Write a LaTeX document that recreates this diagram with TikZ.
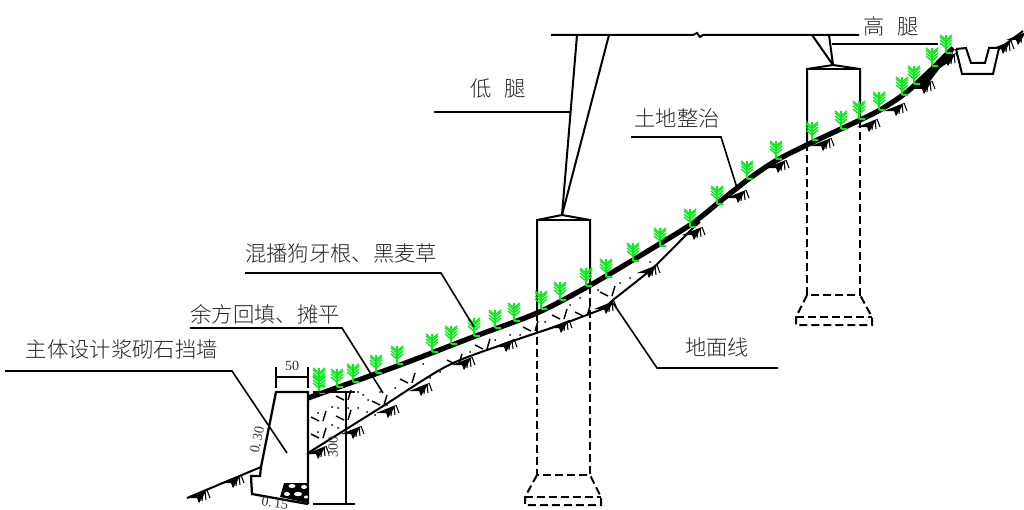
\documentclass[tikz,border=0pt]{standalone}
\usepackage{fontspec}
\setmainfont{Liberation Serif}
\newfontfamily\cjk{Noto Sans CJK SC Light}
\definecolor{grassgreen}{RGB}{0,240,20}
\tikzset{
  x=0.75pt,y=-0.75pt,
  lbl/.style={font=\cjk\fontsize{16}{18}\selectfont,inner sep=0pt,text=black!85},
  dimtxt/.style={font=\fontsize{10.5}{12}\selectfont,inner sep=0pt,text=black!80},
  heavy/.style={line width=1.5pt,line join=miter},
  leader/.style={line width=1.2pt,line join=miter},
  groundline/.style={line width=1.5pt,line join=round},
  dimline/.style={line width=1.1pt},
  hiddenline/.style={line width=1.5pt,dash pattern=on 6pt off 3pt},
  grass/.pic={
    \draw[grassgreen,line width=1.2pt] (-1,-1) -- (0,0) -- (5,0);
    \draw[grassgreen,line width=1.5pt] (-1,0) -- (-1,-9);
    \foreach \h in {-5,-8,-11,-13}{
      \draw[grassgreen,line width=1.0pt] (-7,\h-5) -- (-1,\h) -- (5,\h-5);
    }
    \draw[grassgreen,line width=0.9pt] (-1,-9) -- (-1,-18);
  },
  hach/.pic={
    \fill[black] (-11,3) -- (9,-5) -- (1,8) -- (-1,3) -- cycle;
    \draw[black,line width=0.8pt] (2,-1) -- (1,7) (5,-3) -- (4,6) (7,-4) -- (8,5) (9,-5) -- (12,3);
  },
  fleck/.pic={
    \draw[black,line width=1.1pt] (-9,-2) -- (-1,2) (6,-8) -- (3,2);
  }
}
\begin{document}
\begin{tikzpicture}
\useasboundingbox (0,0) rectangle (1024,510);
\fill[white] (0,0) rectangle (1024,510);

% named anchors of the structure
\coordinate (beamL) at (551,35);
\coordinate (brkA) at (693,35);
\coordinate (brkB) at (703,35);
\coordinate (beamR) at (859,35);
\coordinate (capA) at (562,215);
\coordinate (capB) at (833,65);

% beam and legs
\draw[heavy] (beamL) -- (brkA) -- (697,33) -- (700,37) -- (brkB) -- (beamR);
\draw[heavy] (577,35) -- (capA);
\draw[heavy] (609,35) -- (capA);
\draw[heavy] (812,35) -- (capB);
\draw[heavy] (829,35) -- (capB);

% left pillar
\draw[heavy] (537,313) -- (537,220) -- (capA) -- (590,220) -- (590,287);
\draw[heavy] (537,220) -- (590,220);
\draw[hiddenline] (537,313) -- (537,475) -- (590,475) -- (590,287);
\draw[hiddenline] (537,475) -- (525,497) -- (525,505) -- (601,505) -- (601,497) -- (590,475);
\draw[hiddenline] (525,497) -- (601,497);
% right pillar
\draw[heavy] (807,143) -- (807,69) -- (capB) -- (860,69) -- (860,120);
\draw[heavy] (807,69) -- (860,69);
\draw[hiddenline] (807,143) -- (807,295) -- (860,295) -- (860,120);
\draw[hiddenline] (807,295) -- (796,317) -- (796,325) -- (872,325) -- (872,317) -- (860,295);
\draw[hiddenline] (796,317) -- (872,317);

% retaining wall
\draw[line width=1.7pt,line join=miter] (308,504) -- (308,392) -- (276,392) -- (261,467) -- (260,476) -- (251,476) -- (252,494) -- (308,504);
\fill[black] (284,483) -- (308,483) -- (308,503) -- (280,497) -- cycle;
\fill[white] (292,486) ellipse (3.5 and 2) (304,487) ellipse (3 and 2) (287,494) ellipse (3 and 2) (298,494) ellipse (4 and 2.2) (306,497) ellipse (2 and 1.5);

% ground lines
\draw[groundline] (187,498) -- (261,467);
\draw[groundline] plot[smooth,tension=.5] coordinates {(308,453) (380,408) (447,366) (507,343) (560,325) (605,308)};
\draw[groundline] plot[smooth,tension=.3] coordinates {(605,308) (613,300) (653,268) (693,228) (700,222)};
\draw[groundline] (999,49) -- (1023,31);

% fill texture
\foreach \p in {(320,419),(320,436),(345,418),(345,398),(381,403),(409,381),(456,362),(484,347),(532,329),(561,317),(584,314),(609,294)}{
  \path \p pic {fleck};
}
\foreach \p in {(332,407),(338,408),(318,413),(332,425),(338,428),(318,432),(358,392),(363,395),(368,400),(348,408),(358,408),(367,412),(375,415),(380,392),(387,405),(395,388),(423,364),(430,378),(440,372),(470,352),(495,340),(510,335),(520,335),(545,322),(570,305),(580,298),(598,290),(620,283),(630,278),(650,262)}{
  \fill[black] \p circle (1);
}

% thick top line
\draw[line width=3.9pt,line cap=butt] plot[smooth,tension=.5] coordinates {(308,398) (400,365) (473,337) (537,313) (587,287) (633,260) (690,225) (718,203) (737,188) (750,178) (777,160) (813,142) (843,128) (860,120) (880,110) (903,95) (917,83) (933,68) (953,48)};

% ditch
\draw[line width=1.5pt,line join=miter] (956,49) -- (966,48) -- (971,63) -- (985,63) -- (989,48) -- (999,48) -- (993,74) -- (962,74) -- (956,49);

% ground hachures
\foreach \p in {(198,495),(232,480),(317,451),(352,431),(387,410),(420,388),(463,362),(505,344),(560,325),(605,306),(648,270),(693,232),(737,195),(777,165),(822,143),(868,124),(895,108),(923,86),(947,58),(1017,37),(1002,46)}{
  \path \p pic {hach};
}
\fill[black] (915,88) -- (953,47) -- (952,60) -- (940,68) -- (925,88) -- cycle;

% grass
\foreach \p in {(320,393),(320,386),(338,387),(354,382),(377,373),(398,364),(433,352),(452,344),(475,336),(496,328),(515,321),(542,309),(561,300),(587,286),(607,277),(634,261),(661,246),(691,227),(718,204),(748,179),(777,159),(813,140),(842,129),(860,119),(880,110),(903,95),(915,84),(933,66),(947,53)}{
  \path \p pic {grass};
}

% leaders
\coordinate (l1a) at (434,112); \coordinate (l1b) at (570,112);
\draw[leader] (l1a) -- (l1b);
\coordinate (l2a) at (832,44); \coordinate (l2b) at (938,44);
\draw[leader] (l2a) -- (l2b);
\coordinate (l3a) at (631,137); \coordinate (l3b) at (721,137); \coordinate (l3c) at (737,188);
\draw[leader] (l3a) -- (l3b) -- (l3c);
\coordinate (l4a) at (245,273); \coordinate (l4b) at (441,273); \coordinate (l4c) at (474,327);
\draw[leader] (l4a) -- (l4b) -- (l4c);
\coordinate (l5a) at (190,328); \coordinate (l5b) at (342,328); \coordinate (l5c) at (383,393);
\draw[leader] (l5a) -- (l5b) -- (l5c);
\coordinate (l6a) at (5,371); \coordinate (l6b) at (232,371); \coordinate (l6c) at (287,453);
\draw[leader] (l6a) -- (l6b) -- (l6c);
\coordinate (l7a) at (613,303); \coordinate (l7b) at (657,368); \coordinate (l7c) at (778,368);
\draw[leader] (l7a) -- (l7b) -- (l7c);

% dimensions
\coordinate (d1a) at (276,377); \coordinate (d1b) at (308,377);
\draw[dimline] (d1a) -- (d1b);
\draw[dimline] (276,367) -- (276,388) (308,367) -- (308,388);
\coordinate (d2a) at (346,392); \coordinate (d2b) at (346,504);
\draw[dimline] (d2a) -- (d2b);
\draw[dimline] (313,392) -- (355,392) (313,504) -- (355,504);

% labels
\node[lbl] (tLow) at (498,88) {低\hspace{0.6em}腿};
\node[lbl] (tHigh) at (891,26) {高\hspace{0.6em}腿};
\node[lbl] (tLand) at (677,118) {土地整治};
\node[lbl] (tGrass) at (341,253) {混播狗牙根、黑麦草};
\node[lbl] (tFill) at (265,314) {余方回填、摊平};
\node[lbl] (tWall) at (122,349) {主体设计浆砌石挡墙};
\node[lbl] (tGround) at (717,347) {地面线};
\node[dimtxt] (t50) at (292,366) {50};
\node[dimtxt,rotate=90] (t300) at (333,447) {300};
\node[dimtxt,rotate=78] (t030) at (257,440) {0.\kern1.5pt 30};
\node[dimtxt,rotate=-8] (t015) at (275,503) {0.\kern1.5pt 15};
\end{tikzpicture}
\end{document}
